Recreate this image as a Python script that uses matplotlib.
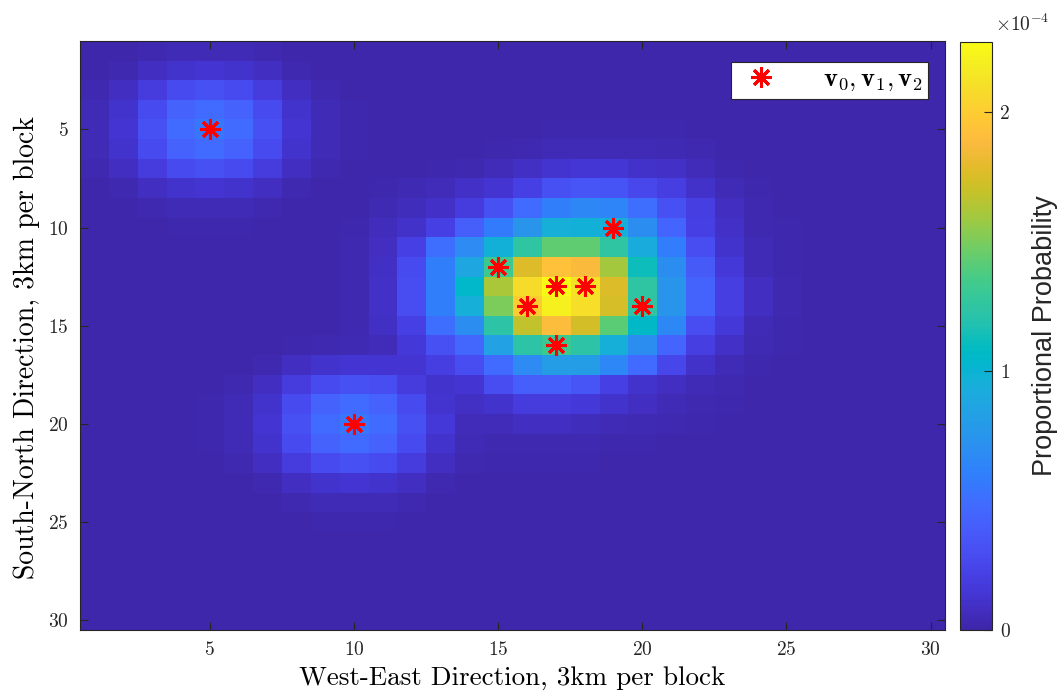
import numpy as np
import matplotlib
matplotlib.use("Agg")
import matplotlib.pyplot as plt
from matplotlib.colors import LinearSegmentedColormap

plt.rcParams['font.family'] = 'cmr10'
plt.rcParams['mathtext.fontset'] = 'cm'
plt.rcParams['axes.formatter.use_mathtext'] = True

# grid of proportional probability (units of 1e-6)
prob_rows = [
    [1, 1, 3, 5, 5, 5, 3, 1, 1, 1, 1, 1, 1, 1, 1, 1, 1, 1, 1, 1, 1, 1, 1, 1, 1, 1, 1, 1, 1, 1],
    [1, 3, 8, 12, 14, 12, 8, 3, 1, 1, 1, 1, 1, 1, 1, 1, 1, 1, 1, 1, 1, 1, 1, 1, 1, 1, 1, 1, 1, 1],
    [3, 8, 18, 28, 32, 28, 18, 8, 3, 1, 1, 1, 1, 1, 1, 1, 1, 1, 1, 1, 1, 1, 1, 1, 1, 1, 1, 1, 1, 1],
    [5, 12, 28, 43, 48, 43, 28, 12, 5, 2, 1, 1, 1, 1, 1, 1, 1, 1, 1, 1, 1, 1, 1, 1, 1, 1, 1, 1, 1, 1],
    [5, 14, 32, 48, 55, 48, 32, 14, 5, 2, 1, 1, 1, 1, 1, 1, 2, 2, 2, 2, 2, 1, 1, 1, 1, 1, 1, 1, 1, 1],
    [5, 12, 28, 43, 48, 43, 28, 12, 5, 2, 1, 1, 1, 1, 2, 3, 5, 5, 5, 5, 4, 3, 1, 1, 1, 1, 1, 1, 1, 1],
    [3, 8, 18, 28, 32, 28, 18, 8, 3, 1, 1, 1, 2, 3, 6, 9, 13, 15, 15, 11, 10, 6, 2, 1, 1, 1, 1, 1, 1, 1],
    [1, 3, 8, 12, 14, 12, 8, 3, 1, 1, 2, 4, 6, 10, 14, 22, 32, 35, 34, 26, 20, 11, 5, 2, 1, 1, 1, 1, 1, 1],
    [1, 1, 3, 5, 5, 5, 3, 1, 1, 1, 4, 7, 10, 18, 32, 48, 60, 66, 64, 50, 32, 20, 8, 3, 1, 1, 1, 1, 1, 1],
    [1, 1, 1, 2, 2, 2, 1, 1, 1, 2, 7, 11, 22, 40, 58, 75, 95, 97, 95, 70, 45, 22, 10, 3, 2, 1, 1, 1, 1, 1],
    [1, 1, 1, 1, 1, 1, 1, 1, 1, 3, 8, 22, 50, 68, 97, 125, 143, 143, 125, 92, 59, 30, 12, 5, 2, 1, 1, 1, 1, 1],
    [1, 1, 1, 1, 1, 1, 1, 1, 1, 3, 9, 28, 60, 88, 132, 177, 193, 188, 160, 112, 70, 38, 16, 5, 2, 1, 1, 1, 1, 1],
    [1, 1, 1, 1, 1, 1, 1, 1, 1, 3, 10, 30, 60, 104, 162, 208, 227, 212, 177, 125, 75, 44, 20, 8, 3, 1, 1, 1, 1, 1],
    [1, 1, 1, 1, 1, 1, 1, 1, 1, 3, 10, 30, 60, 95, 150, 200, 220, 210, 174, 125, 75, 44, 20, 8, 3, 1, 1, 1, 1, 1],
    [1, 1, 1, 1, 1, 1, 1, 1, 1, 3, 9, 22, 50, 70, 123, 168, 190, 173, 141, 106, 66, 30, 16, 5, 2, 1, 1, 1, 1, 1],
    [1, 1, 1, 1, 1, 1, 1, 2, 3, 4, 6, 16, 32, 46, 84, 123, 132, 123, 95, 70, 45, 20, 10, 4, 2, 1, 1, 1, 1, 1],
    [1, 1, 1, 1, 1, 1, 3, 8, 12, 14, 14, 14, 20, 30, 48, 68, 80, 80, 65, 48, 25, 11, 5, 2, 1, 1, 1, 1, 1, 1],
    [1, 1, 1, 1, 1, 3, 8, 18, 28, 32, 30, 18, 12, 14, 30, 40, 40, 35, 22, 12, 8, 5, 3, 1, 1, 1, 1, 1, 1, 1],
    [1, 1, 1, 1, 2, 5, 12, 28, 43, 48, 43, 28, 13, 9, 12, 18, 18, 16, 12, 8, 5, 3, 2, 1, 1, 1, 1, 1, 1, 1],
    [1, 1, 1, 1, 2, 5, 14, 32, 48, 55, 48, 32, 16, 6, 6, 8, 8, 7, 5, 4, 3, 2, 1, 1, 1, 1, 1, 1, 1, 1],
    [1, 1, 1, 1, 2, 5, 12, 28, 43, 48, 43, 28, 12, 5, 3, 3, 3, 3, 2, 2, 1, 1, 1, 1, 1, 1, 1, 1, 1, 1],
    [1, 1, 1, 1, 1, 3, 8, 18, 28, 32, 28, 18, 8, 3, 2, 2, 2, 2, 1, 1, 1, 1, 1, 1, 1, 1, 1, 1, 1, 1],
    [1, 1, 1, 1, 1, 1, 3, 8, 12, 14, 12, 8, 3, 1, 1, 1, 1, 1, 1, 1, 1, 1, 1, 1, 1, 1, 1, 1, 1, 1],
    [1, 1, 1, 1, 1, 1, 1, 3, 5, 5, 5, 3, 1, 1, 1, 1, 1, 1, 1, 1, 1, 1, 1, 1, 1, 1, 1, 1, 1, 1],
    [1, 1, 1, 1, 1, 1, 1, 1, 2, 2, 2, 1, 1, 1, 1, 1, 1, 1, 1, 1, 1, 1, 1, 1, 1, 1, 1, 1, 1, 1],
    [1, 1, 1, 1, 1, 1, 1, 1, 1, 1, 1, 1, 1, 1, 1, 1, 1, 1, 1, 1, 1, 1, 1, 1, 1, 1, 1, 1, 1, 1],
    [1, 1, 1, 1, 1, 1, 1, 1, 1, 1, 1, 1, 1, 1, 1, 1, 1, 1, 1, 1, 1, 1, 1, 1, 1, 1, 1, 1, 1, 1],
    [1, 1, 1, 1, 1, 1, 1, 1, 1, 1, 1, 1, 1, 1, 1, 1, 1, 1, 1, 1, 1, 1, 1, 1, 1, 1, 1, 1, 1, 1],
    [1, 1, 1, 1, 1, 1, 1, 1, 1, 1, 1, 1, 1, 1, 1, 1, 1, 1, 1, 1, 1, 1, 1, 1, 1, 1, 1, 1, 1, 1],
    [1, 1, 1, 1, 1, 1, 1, 1, 1, 1, 1, 1, 1, 1, 1, 1, 1, 1, 1, 1, 1, 1, 1, 1, 1, 1, 1, 1, 1, 1],
]
prob_scale = 1e-6

# the v0, v1, v2 points (column, row)
v_x = [5, 10, 15, 17, 18, 16, 20, 17, 19]
v_y = [5, 20, 12, 13, 13, 14, 14, 16, 10]

axis_ticks = [5, 10, 15, 20, 25, 30]
cbar_ticks = [0, 1e-4, 2e-4]
cbar_ticklabels = ['0', '1', '2']

# matlab parula (64 entries)
parula_list = [
    [0.2422, 0.1504, 0.6603], [0.2504, 0.1650, 0.7076], [0.2578, 0.1818, 0.7511], [0.2647, 0.1978, 0.7952],
    [0.2706, 0.2147, 0.8364], [0.2751, 0.2342, 0.8710], [0.2783, 0.2559, 0.8991], [0.2803, 0.2782, 0.9221],
    [0.2813, 0.3006, 0.9414], [0.2810, 0.3228, 0.9579], [0.2795, 0.3447, 0.9717], [0.2760, 0.3667, 0.9829],
    [0.2699, 0.3892, 0.9906], [0.2602, 0.4123, 0.9952], [0.2440, 0.4358, 0.9988], [0.2206, 0.4603, 0.9973],
    [0.1963, 0.4847, 0.9892], [0.1834, 0.5074, 0.9798], [0.1786, 0.5289, 0.9682], [0.1764, 0.5499, 0.9520],
    [0.1687, 0.5703, 0.9359], [0.1540, 0.5902, 0.9218], [0.1460, 0.6091, 0.9079], [0.1380, 0.6276, 0.8973],
    [0.1248, 0.6459, 0.8883], [0.1113, 0.6635, 0.8763], [0.0952, 0.6798, 0.8598], [0.0689, 0.6948, 0.8394],
    [0.0297, 0.7082, 0.8163], [0.0036, 0.7203, 0.7917], [0.0067, 0.7312, 0.7660], [0.0433, 0.7411, 0.7394],
    [0.0964, 0.7500, 0.7120], [0.1408, 0.7584, 0.6842], [0.1717, 0.7670, 0.6554], [0.1938, 0.7758, 0.6251],
    [0.2161, 0.7843, 0.5923], [0.2470, 0.7918, 0.5567], [0.2906, 0.7973, 0.5188], [0.3406, 0.8008, 0.4789],
    [0.3909, 0.8029, 0.4354], [0.4456, 0.8024, 0.3909], [0.5044, 0.7993, 0.3480], [0.5616, 0.7942, 0.3045],
    [0.6174, 0.7876, 0.2612], [0.6720, 0.7793, 0.2227], [0.7242, 0.7698, 0.1910], [0.7738, 0.7598, 0.1646],
    [0.8203, 0.7498, 0.1535], [0.8634, 0.7406, 0.1596], [0.9035, 0.7330, 0.1774], [0.9393, 0.7288, 0.2100],
    [0.9728, 0.7298, 0.2394], [0.9956, 0.7434, 0.2371], [0.9970, 0.7659, 0.2199], [0.9952, 0.7893, 0.2028],
    [0.9892, 0.8136, 0.1885], [0.9786, 0.8386, 0.1766], [0.9676, 0.8639, 0.1643], [0.9610, 0.8890, 0.1537],
    [0.9597, 0.9135, 0.1423], [0.9628, 0.9373, 0.1265], [0.9691, 0.9606, 0.1064], [0.9769, 0.9839, 0.0805],
]
parula = LinearSegmentedColormap.from_list('parula', parula_list, N=256)

prob = np.array(prob_rows, dtype=float) * prob_scale
n_rows, n_cols = prob.shape

fig = plt.figure(figsize=(10.58, 6.94), dpi=100)
ax = fig.add_axes([0.0756, 0.0922, 0.8176, 0.8487])
cax = fig.add_axes([0.9074, 0.0922, 0.0302, 0.8473])

im = ax.imshow(prob, cmap=parula, vmin=0, vmax=prob.max(),
               extent=(0.5, n_cols + 0.5, n_rows + 0.5, 0.5),
               aspect='auto', interpolation='nearest')

v_label = r'$\mathbf{v}_{\mathbf{0}}\mathbf{,}\,\mathbf{v}_{\mathbf{1}}\mathbf{,}\,\mathbf{v}_{\mathbf{2}}$'
ax.plot(v_x, v_y, linestyle='none', marker=(8, 2, 0), color='red',
        markersize=15, markeredgewidth=2.2, label=v_label)

ax.set_xticks(axis_ticks)
ax.set_yticks(axis_ticks)
ax.tick_params(direction='in', top=True, right=True, length=6, width=0.8,
               color='#262626', labelcolor='#262626', labelsize=14, pad=8)
for sp in ax.spines.values():
    sp.set_color('#262626')
    sp.set_linewidth(0.8)

ax.set_xlabel('West-East Direction, 3km per block', fontsize=19.5, labelpad=5)
ax.set_ylabel('South-North Direction, 3km per block', fontsize=20)
ax.yaxis.set_label_coords(-0.046, 0.48)

leg = ax.legend(loc='upper right', bbox_to_anchor=(0.9803, 0.9643), borderaxespad=0,
                fontsize=19, fancybox=False, framealpha=1, edgecolor='#262626',
                handlelength=1.9, handletextpad=1.4, borderpad=0.2)
leg.get_frame().set_linewidth(0.8)

cb = fig.colorbar(im, cax=cax, ticks=cbar_ticks)
cb.set_ticklabels(cbar_ticklabels)
cax.tick_params(direction='in', length=6, width=0.8, color='#262626',
                labelcolor='#262626', labelsize=14, pad=6)
cb.outline.set_edgecolor('#262626')
cb.outline.set_linewidth(0.8)
cb.set_label('Proportional Probability', fontfamily='Liberation Sans', fontsize=19.5,
             color='#262626', labelpad=16)
cax.text(1.95, 1.012, r'$\times10^{-4}$', transform=cax.transAxes, ha='center',
         va='bottom', fontsize=14, color='#262626')

fig.savefig('out.png', dpi=100)
